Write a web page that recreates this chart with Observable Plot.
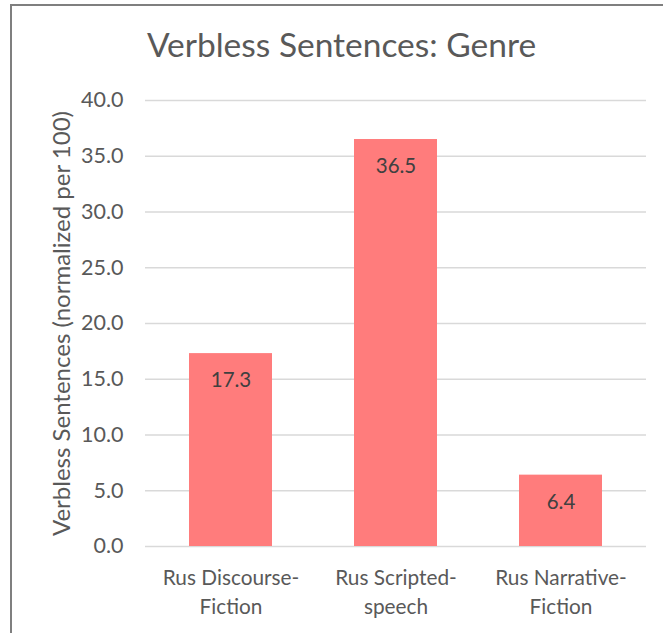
<!DOCTYPE html>
<html>
<head>
<meta charset="utf-8">
<script src="https://cdn.jsdelivr.net/npm/d3@7"></script>
<script src="https://cdn.jsdelivr.net/npm/@observablehq/plot@0.6"></script>
<style>
  html, body { margin: 0; padding: 0; background: #fff; }
  #wrap { position: relative; width: 663px; height: 633px; overflow: hidden; background: #fff; }
  #frame { position: absolute; left: 10px; top: 4px; width: 700px; height: 700px;
           border-left: 2px solid #7f7f7f; border-top: 2px solid #7f7f7f; box-sizing: border-box; }
  #title { position: absolute; left: 0; width: 683px; top: 25px; text-align: center;
           font-family: Lato, sans-serif; font-size: 33.5px; color: #595959; line-height: 38px; }
  #chart { position: absolute; left: 0; top: 0; }
</style>
</head>
<body>
<div id="wrap">
  <div id="frame"></div>
  <div id="title">Verbless Sentences: Genre</div>
  <div id="chart"></div>
</div>
<script>
const categories = ["Rus Discourse-Fiction", "Rus Scripted-speech", "Rus Narrative-Fiction"];
const values = [17.3, 36.5, 6.4];
const yTicks = [0, 5, 10, 15, 20, 25, 30, 35, 40];
const yLabel = "Verbless Sentences (normalized per 100)";

const data = categories.map((c, i) => ({category: c, value: values[i]}));

const chart = Plot.plot({
  width: 663,
  height: 633,
  marginTop: 100,
  marginBottom: 87,
  marginLeft: 145,
  marginRight: 17,
  style: {fontFamily: "Lato, sans-serif", background: "transparent"},
  x: {domain: categories, paddingInner: 0.5, paddingOuter: 0.26, align: 0.5},
  y: {domain: [0, 40]},
  marks: [
    Plot.gridY(yTicks, {stroke: "#d9d9d9", strokeOpacity: 1, strokeWidth: 1.5}),
    Plot.barY(data, {x: "category", y: "value", fill: "#ff7c7c"}),
    Plot.text(data, {x: "category", y: "value", text: d => d.value.toFixed(1), dy: 27,
                     fontSize: 20.5, fill: "#404040"}),
    Plot.axisY(yTicks, {tickSize: 0, tickPadding: 22, tickFormat: d => d.toFixed(1),
                        fontSize: 21.5, fill: "#595959", label: null}),
    Plot.axisY([], {label: yLabel, labelAnchor: "center", labelOffset: 93, labelArrow: "none",
                    fontSize: 24, fill: "#595959", tickSize: 0}),
    Plot.axisX({tickSize: 0, tickPadding: 18, fontSize: 20.8, fill: "#595959", lineHeight: 1.38,
                tickFormat: d => d.replace("-", "-\n"), label: null})
  ]
});
document.getElementById("chart").appendChild(chart);
</script>
</body>
</html>
